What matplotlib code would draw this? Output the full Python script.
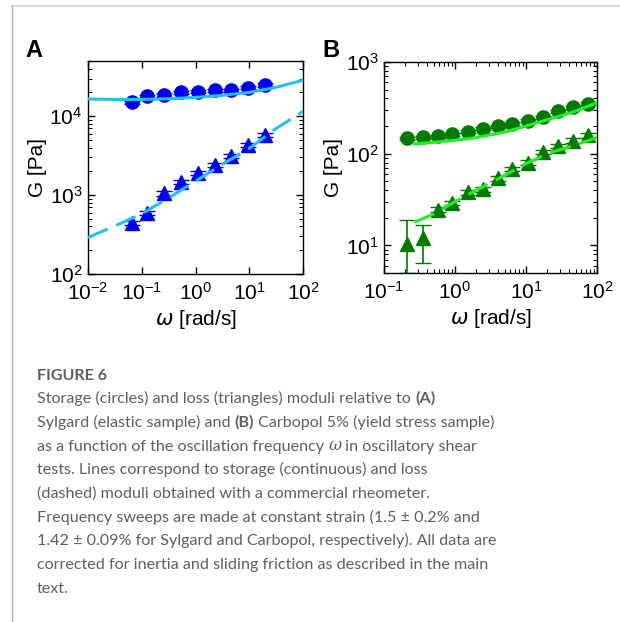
import numpy as np
import matplotlib
matplotlib.use("Agg")
import matplotlib.pyplot as plt
from matplotlib.lines import Line2D

plt.rcParams['font.family'] = ['Liberation Sans', 'DejaVu Sans']
plt.rcParams['mathtext.fontset'] = 'dejavusans'

# A: Sylgard
wA = [0.065, 0.125, 0.26, 0.54, 1.1, 2.3, 4.5, 9.4, 19.3]
GpA = [15000, 17800, 18600, 20000, 20500, 21300, 21300, 23000, 24900]
GppA = [440, 600, 1050, 1470, 1900, 2430, 3100, 4350, 5850]
w_rheoA = [0.01, 0.03, 0.1, 0.3, 1, 3, 10, 30, 100]
Gp_rheoA = [16500, 16300, 16300, 16600, 17300, 18300, 20000, 23000, 28500]
Gpp_rheoA = [290, 400, 580, 900, 1500, 2400, 3900, 6800, 11500]

# B: Carbopol 5%
wB = [0.21, 0.357, 0.57, 0.9, 1.53, 2.5, 4.05, 6.45, 10.7, 17.4, 28.4, 46, 75]
GpB = [147, 151, 155, 162, 173, 188, 199, 211, 230, 250, 290, 320, 350]
GppB = [10.3, 12, 24.5, 29, 38, 41, 54, 68, 80, 105, 121, 139, 159]
GppB_lo = [5.3, 5.5, 1.5, 1.7, 2.2, 2.4, 3, 4, 4.5, 6, 7, 8, 9]
GppB_hi = [8.7, 4.8, 1.5, 1.7, 2.2, 2.4, 3, 4, 4.5, 6, 7, 8, 9]
w_rheoB = [0.267, 0.5, 1, 2, 5, 10, 20, 50, 100]
Gp_rheoB = [128, 133, 140, 150, 172, 200, 235, 290, 360]
Gpp_rheoB = [17.9, 22, 30, 40, 58, 78, 100, 125, 150]

fig = plt.figure(figsize=(6.2, 6.22), dpi=100)

# page frame lines
fig.add_artist(Line2D([12/620, 1], [1 - 6/622, 1 - 6/622], transform=fig.transFigure, color='#d8d8d8', lw=1.5))
fig.add_artist(Line2D([12/620, 12/620], [0, 1 - 6/622], transform=fig.transFigure, color='#b0b0b0', lw=1))

axA = fig.add_axes([88/620, 1 - 274/622, 215/620, 213/622])
axB = fig.add_axes([384/620, 1 - 273/622, 213/620, 211/622])


def style(ax):
    ax.set_xscale('log')
    ax.set_yscale('log')
    ax.tick_params(which='both', direction='in', top=True, right=True, labelsize=15)
    ax.tick_params(which='major', length=5, width=1, pad=4)
    ax.tick_params(axis='x', which='major', pad=6)
    ax.tick_params(which='minor', length=3, width=0.8)
    for s in ax.spines.values():
        s.set_linewidth(1)
    ax.set_xlabel(r'$\omega$ [rad/s]', fontsize=15, labelpad=3)
    ax.set_ylabel('G [Pa]', fontsize=15, labelpad=2)


# panel A
blue = '#0000ee'
cyan = '#20c0f0'
axA.plot(w_rheoA, Gp_rheoA, '-', color=cyan, lw=2.2, zorder=3)
axA.plot(w_rheoA, Gpp_rheoA, color=cyan, lw=2.2, dashes=(7, 3), zorder=3)
axA.errorbar(wA, GpA, yerr=np.array(GpA) * 0.05, fmt='o', color=blue, ms=9.5, capsize=5.5, elinewidth=1, zorder=2)
axA.errorbar(wA, GppA, yerr=np.array(GppA) * 0.06, fmt='^', color=blue, ms=9.5, capsize=5.5, elinewidth=1, zorder=2)
style(axA)
axA.set_xlim(1e-2, 1e2)
axA.set_ylim(1e2, 5e4)
axA.set_xticks([1e-2, 1e-1, 1e0, 1e1, 1e2])
axA.set_yticks([1e2, 1e3, 1e4])

# panel B
dgreen = '#007a00'
lgreen = '#22ee22'
axB.plot(w_rheoB, Gp_rheoB, '-', color=lgreen, lw=2.2, zorder=3)
axB.plot(w_rheoB, Gpp_rheoB, color=lgreen, lw=2.2, dashes=(7, 3), zorder=3)
axB.errorbar(wB, GpB, yerr=np.array(GpB) * 0.04, fmt='o', color=dgreen, ms=9.5, capsize=5.5, elinewidth=1, zorder=2)
axB.errorbar(wB, GppB, yerr=[GppB_lo, GppB_hi], fmt='^', color=dgreen, ms=9.5, capsize=5.5, elinewidth=1.2, zorder=2)
style(axB)
axB.set_xlim(1e-1, 1e2)
axB.set_ylim(5, 1e3)
axB.set_xticks([1e-1, 1e0, 1e1, 1e2])
axB.set_yticks([1e1, 1e2, 1e3])

fig.text(25/620, 1 - 57/622, 'A', fontsize=17, fontweight='bold', va='baseline')
fig.text(322/620, 1 - 57/622, 'B', fontsize=17, fontweight='bold', va='baseline')

# caption
cap_color = '#5f5f5f'
cap_font = ['Lato', 'DejaVu Sans']
cap_size = 11.65
x0 = 37
fig.text(x0/620, 1 - 380/622, 'FIGURE 6', fontsize=cap_size, fontweight='bold', color=cap_color,
         family=cap_font, va='baseline')

lines = [
    [("Storage (circles) and loss (triangles) moduli relative to ", 'normal'), ("(A)", 'bold')],
    [("Sylgard (elastic sample) and ", 'normal'), ("(B)", 'bold'), (" Carbopol 5% (yield stress sample)", 'normal')],
    [("as a function of the oscillation frequency ", 'normal'), ("ω", 'italic'), (" in oscillatory shear", 'normal')],
    [("tests. Lines correspond to storage (continuous) and loss", 'normal')],
    [("(dashed) moduli obtained with a commercial rheometer.", 'normal')],
    [("Frequency sweeps are made at constant strain (1.5 ± 0.2% and", 'normal')],
    [("1.42 ± 0.09% for Sylgard and Carbopol, respectively). All data are", 'normal')],
    [("corrected for inertia and sliding friction as described in the main", 'normal')],
    [("text.", 'normal')],
]

renderer = fig.canvas.get_renderer()
for i, segs in enumerate(lines):
    y = 1 - (403 + i * 23.75) / 622
    x = x0
    for txt, kind in segs:
        kw = dict(fontsize=cap_size, color=cap_color, family=cap_font, va='baseline')
        if kind == 'bold':
            kw['fontweight'] = 'bold'
        if kind == 'italic':
            kw['fontstyle'] = 'italic'
            kw['family'] = ['DejaVu Serif']
        t = fig.text(x / 620, y, txt, **kw)
        x += t.get_window_extent(renderer=renderer).width

fig.savefig('out.png', dpi=100)
